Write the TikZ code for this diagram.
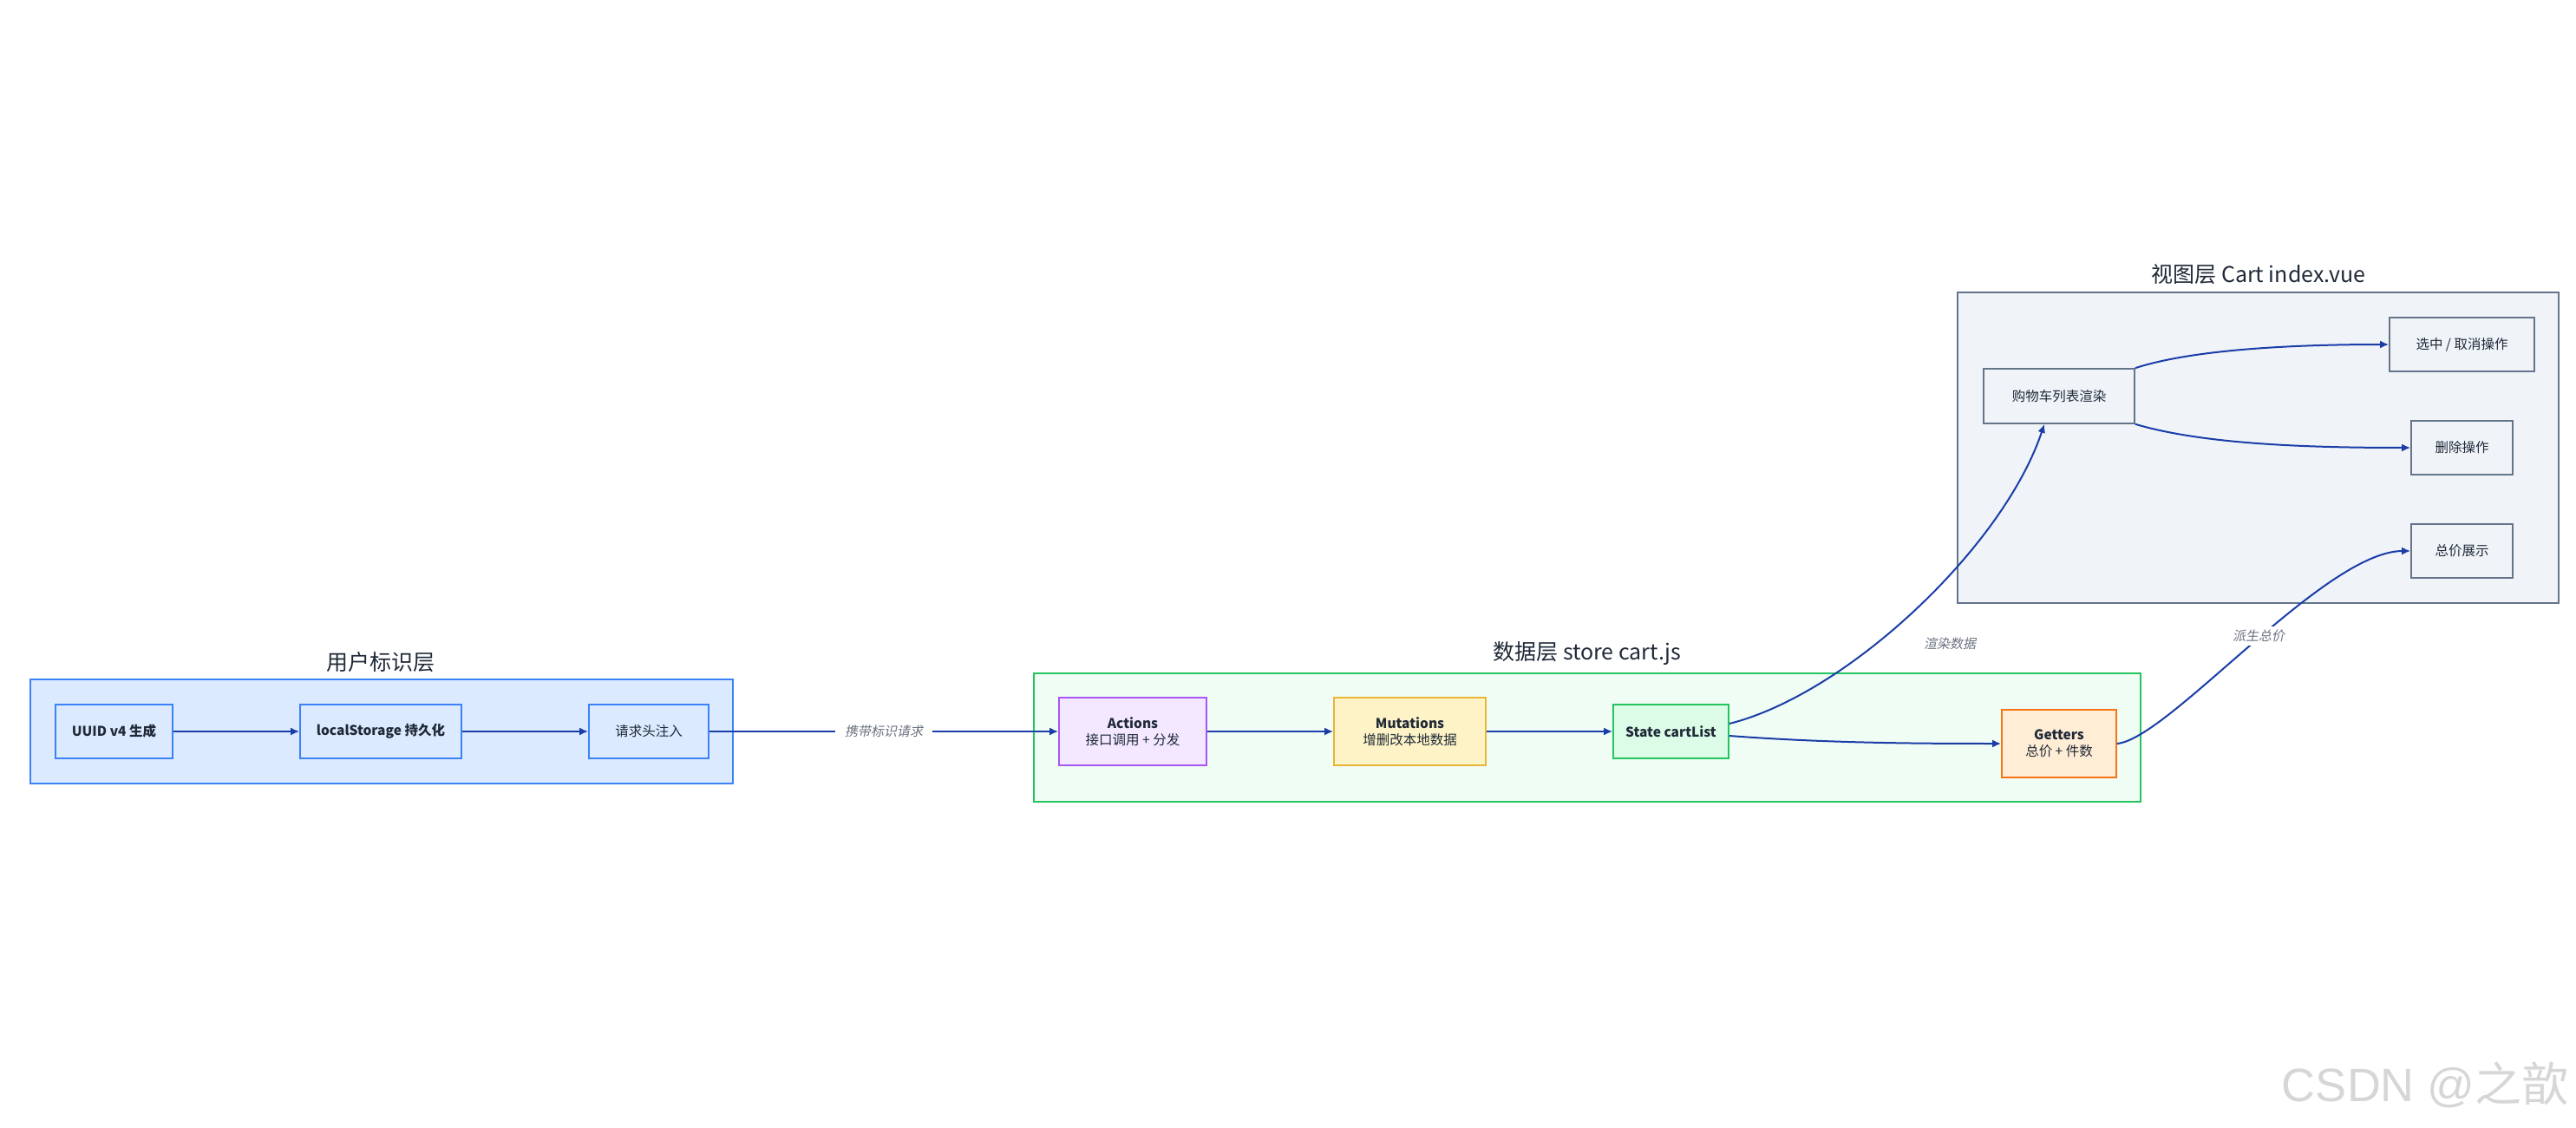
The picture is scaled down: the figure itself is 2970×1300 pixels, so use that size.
\documentclass[tikz,border=0pt]{standalone}
\usepackage{fontspec}
\setmainfont{Noto Sans CJK SC}
\newfontfamily\labfont[FakeSlant=0.2]{Noto Sans CJK SC}
\newfontfamily\wmfont{Liberation Sans}
\usetikzlibrary{arrows.meta}
\definecolor{txt}{HTML}{1F2937}
\definecolor{lab}{HTML}{6B7280}
\definecolor{arr}{HTML}{1A3DA8}
\definecolor{blueF}{HTML}{DBEAFE}
\definecolor{blueD}{HTML}{3B82F6}
\definecolor{greenF}{HTML}{F0FDF4}
\definecolor{greenD}{HTML}{22C55E}
\definecolor{stateF}{HTML}{DCFCE7}
\definecolor{purpF}{HTML}{F3E8FF}
\definecolor{purpD}{HTML}{A855F7}
\definecolor{yelF}{HTML}{FEF3C7}
\definecolor{yelD}{HTML}{EBB434}
\definecolor{orF}{HTML}{FFEDD5}
\definecolor{orD}{HTML}{F97316}
\definecolor{slF}{HTML}{F0F4F9}
\definecolor{slD}{HTML}{64748B}
\begin{document}
\begin{tikzpicture}[x=1bp,y=-1bp,
  box/.style={draw, line width=1.6bp, inner sep=0pt, align=center, text=txt,
    font=\fontsize{15.5bp}{19bp}\selectfont},
  layer/.style={draw, line width=1.6bp, inner sep=0pt},
  ttl/.style={font=\fontsize{25bp}{29bp}\selectfont, text=txt, inner sep=0pt},
  flow/.style={draw=arr, line width=2bp, -{Latex[length=10bp,width=9bp]}},
  elab/.style={font=\labfont\fontsize{15bp}{19bp}\selectfont, text=lab, inner sep=0pt}
]
\useasboundingbox (0,0) rectangle (2970,1300);

% ---------- layers ----------
\node[layer, fill=blueF, draw=blueD, minimum width=810bp, minimum height=120bp] (userL) at (440,843) {};
\node[ttl] (userT) at (439,763) {用户标识层};

\node[layer, fill=greenF, draw=greenD, minimum width=1276bp, minimum height=148bp] (dataL) at (1830,850) {};
\node[ttl] (dataT) at (1830,753) {数据层 store cart.js};

\node[layer, fill=slF, draw=slD, minimum width=693bp, minimum height=358bp] (viewL) at (2603.5,516) {};
\node[ttl] (viewT) at (2604,316) {视图层 Cart index.vue};

% ---------- user layer nodes ----------
\node[box, fill=blueF, draw=blueD, minimum width=135bp, minimum height=62bp] (uuid) at (131.5,843) {\bfseries UUID v4 生成};
\node[box, fill=blueF, draw=blueD, minimum width=186bp, minimum height=62bp] (ls) at (439,843) {\bfseries localStorage 持久化};
\node[box, fill=blueF, draw=blueD, minimum width=138bp, minimum height=62bp] (qq) at (748,843) {请求头注入};

% ---------- data layer nodes ----------
\node[box, fill=purpF, draw=purpD, minimum width=170bp, minimum height=78bp] (act) at (1306,843) {{\bfseries Actions}\\接口调用 + 分发};
\node[box, fill=yelF, draw=yelD, minimum width=175bp, minimum height=78bp] (mut) at (1625.5,843) {{\bfseries Mutations}\\增删改本地数据};
\node[box, fill=stateF, draw=greenD, minimum width=133bp, minimum height=62bp] (state) at (1926.5,843) {\bfseries State cartList};
\node[box, fill=orF, draw=orD, minimum width=132bp, minimum height=78bp] (get) at (2374,857) {{\bfseries Getters}\\总价 + 件数};

% ---------- view layer nodes ----------
\node[box, fill=slF, draw=slD, minimum width=174bp, minimum height=63bp] (gou) at (2374,456.5) {购物车列表渲染};
\node[box, fill=slF, draw=slD, minimum width=167bp, minimum height=62bp] (xuan) at (2838.5,397) {选中 / 取消操作};
\node[box, fill=slF, draw=slD, minimum width=117bp, minimum height=62bp] (shan) at (2838.5,516) {删除操作};
\node[box, fill=slF, draw=slD, minimum width=117bp, minimum height=62bp] (zong) at (2838.5,635) {总价展示};

% ---------- connectors ----------
\draw[flow] (uuid) -- (ls);
\draw[flow] (ls) -- (qq);
\draw[flow] (qq) -- (act) node[midway, elab, fill=white, inner xsep=11bp, inner ysep=4bp] (lb1) {携带标识请求};
\draw[flow] (act) -- (mut);
\draw[flow] (mut) -- (state);

\draw[flow] ([yshift=9bp]state.east) .. controls (2130,800) and (2310,630) .. ([xshift=-17bp]gou.south);
\node[elab] (lb2) at (2248,742) {渲染数据};
\draw[flow] ([yshift=-5bp]state.east) .. controls (2100,856) and (2200,857) .. (get.west);

\draw[flow] (get.east) .. controls (2500,852) and (2680,635) .. (zong.west);
\node[elab, fill=white, inner xsep=3bp, inner ysep=4bp] (lb3) at (2604,733) {派生总价};

\draw[flow] (gou.north east) .. controls (2530,402) and (2650,397) .. (xuan.west);
\draw[flow] (gou.south east) .. controls (2540,512) and (2660,516) .. (shan.west);

% ---------- watermark ----------
\node[anchor=east, inner sep=0pt, text=black!16, font=\wmfont\fontsize{54bp}{58bp}\selectfont] (wm) at (2962,1250) {CSDN @{\rmfamily 之歆}};
\end{tikzpicture}
\end{document}
